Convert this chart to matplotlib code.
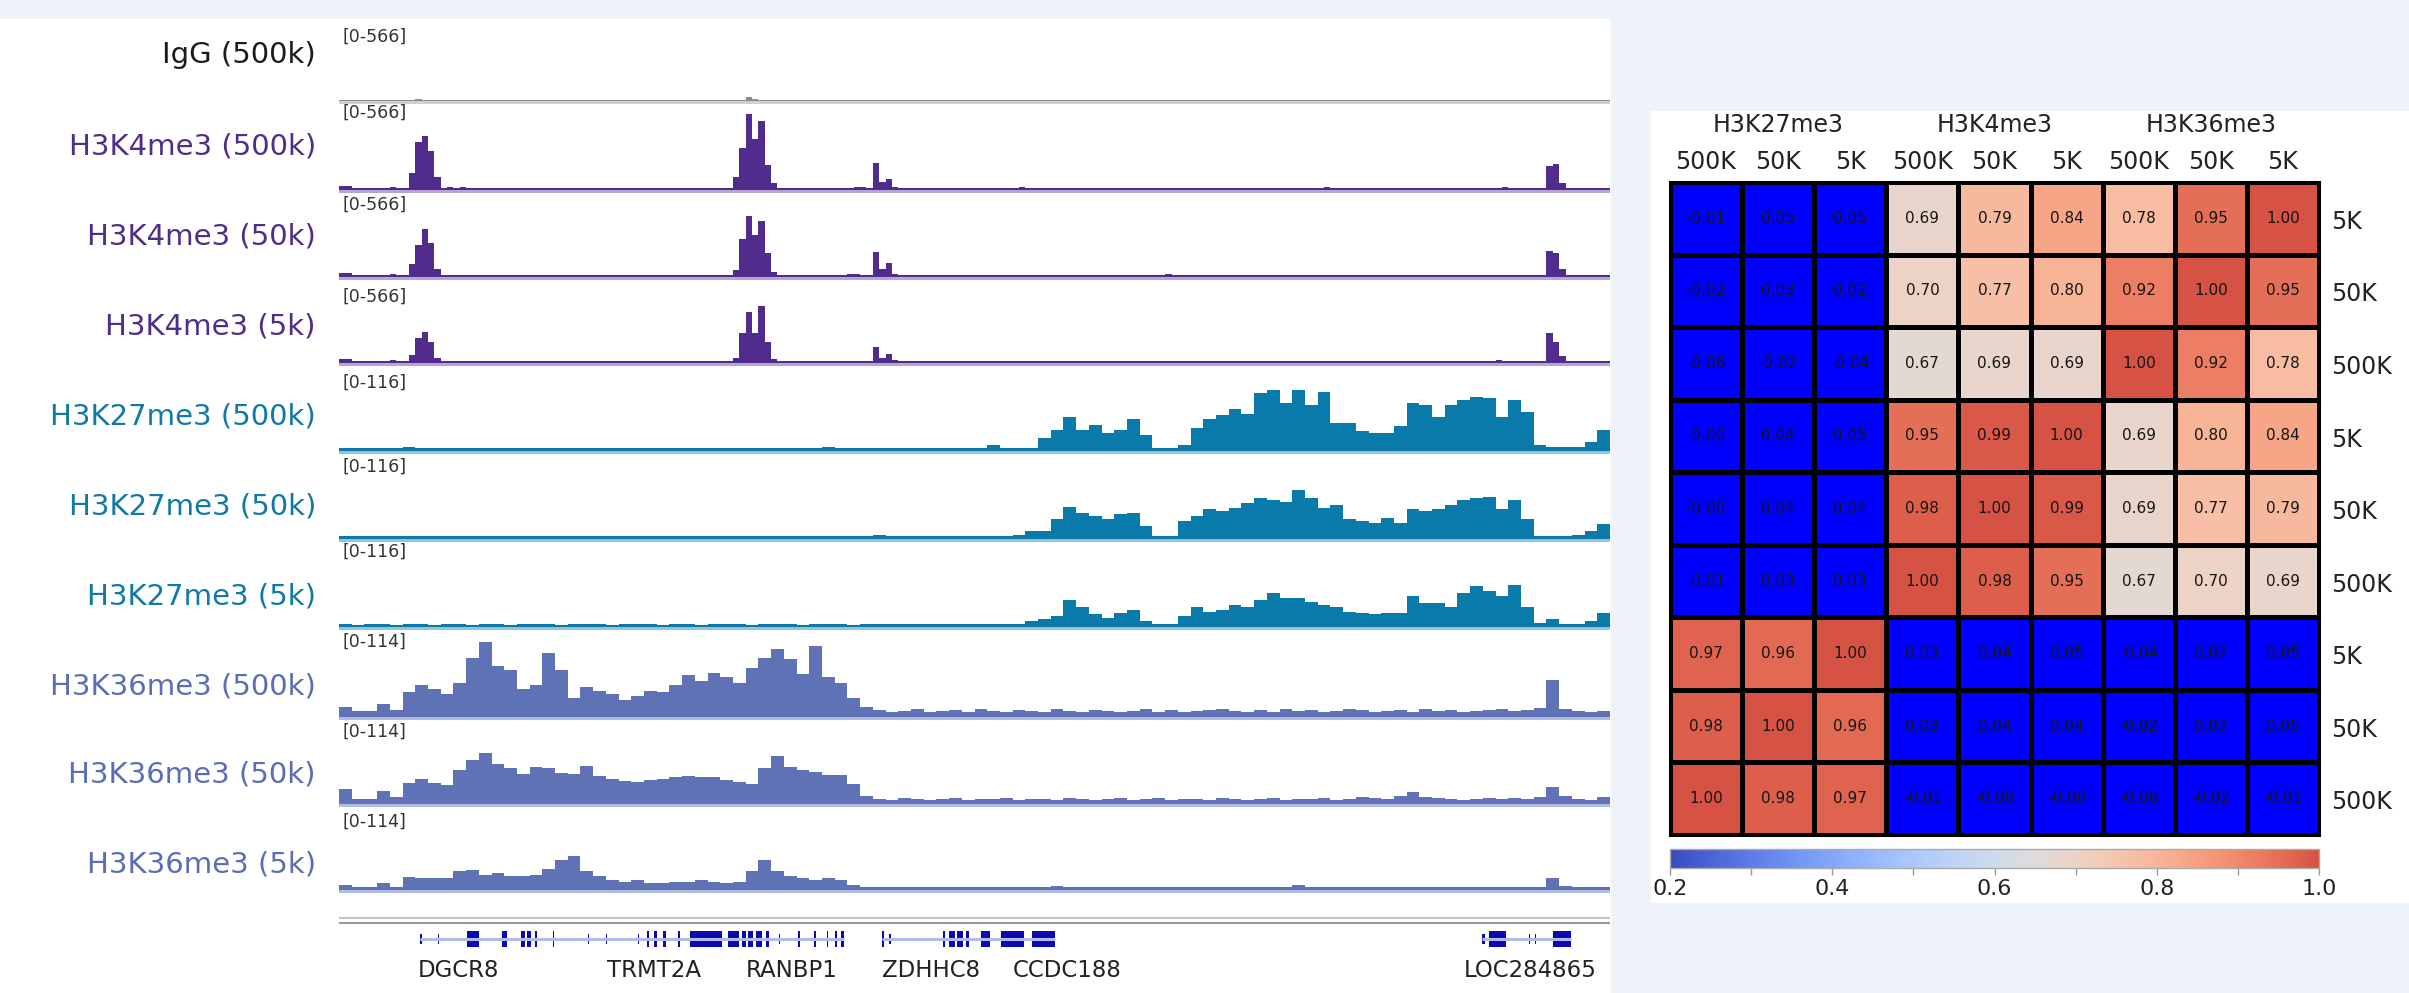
import numpy as np
import matplotlib
matplotlib.use('Agg')
import matplotlib.pyplot as plt
from matplotlib.patches import Rectangle
from matplotlib.colors import Normalize, LinearSegmentedColormap

# %% data

# coverage tracks, 100 bins across the locus, signal in % of the track range
k27_500k = [3, 3, 4, 3, 3, 5, 3, 3, 4, 3, 3, 4, 3, 3, 3, 4, 3, 3, 3, 4,
            3, 3, 4, 3, 3, 3, 4, 3, 3, 3, 4, 3, 3, 3, 3, 4, 3, 3, 5, 3,
            3, 4, 3, 3, 3, 3, 3, 3, 3, 4, 3, 7, 3, 3, 4, 15, 25, 40, 25, 31,
            21, 25, 38, 19, 3, 3, 7, 27, 38, 42, 50, 44, 68, 72, 56, 72, 54, 70, 33, 33,
            23, 21, 21, 29, 56, 54, 40, 54, 60, 64, 62, 40, 60, 46, 7, 5, 5, 5, 11, 25]
k27_50k = [3, 3, 3, 4, 3, 3, 4, 3, 3, 3, 3, 3, 4, 3, 3, 3, 3, 4, 3, 3,
           3, 3, 3, 3, 4, 3, 3, 3, 3, 3, 3, 3, 3, 3, 3, 3, 3, 3, 4, 3,
           3, 4, 5, 3, 4, 3, 3, 4, 3, 3, 4, 3, 4, 5, 9, 9, 23, 38, 31, 27,
           23, 29, 31, 15, 3, 3, 21, 27, 35, 33, 36, 42, 48, 46, 44, 58, 48, 36, 40, 23,
           21, 19, 25, 19, 35, 33, 35, 40, 46, 48, 50, 35, 46, 23, 3, 3, 3, 5, 9, 18]
k27_5k = [3, 2, 3, 3, 2, 3, 3, 2, 3, 3, 2, 3, 3, 2, 3, 3, 3, 2, 3, 3,
          3, 2, 3, 3, 3, 2, 3, 3, 2, 3, 3, 3, 2, 3, 3, 3, 2, 3, 3, 3,
          2, 3, 3, 3, 4, 3, 3, 3, 3, 3, 3, 3, 4, 4, 7, 9, 13, 32, 24, 15,
          11, 16, 20, 7, 3, 3, 13, 24, 18, 20, 26, 24, 32, 40, 34, 34, 30, 26, 24, 18,
          16, 15, 16, 16, 36, 28, 28, 24, 40, 48, 42, 36, 50, 24, 5, 9, 3, 4, 7, 16]

k36_500k = [12, 7, 7, 15, 8, 30, 38, 33, 27, 40, 70, 88, 60, 55, 33, 38, 75, 55, 22, 35,
            31, 27, 20, 25, 31, 29, 38, 50, 42, 52, 47, 40, 58, 70, 80, 68, 51, 84, 47, 40,
            22, 12, 8, 6, 7, 9, 6, 7, 8, 6, 9, 7, 6, 8, 7, 6, 9, 7, 6, 8,
            7, 6, 7, 9, 6, 8, 6, 7, 8, 9, 7, 6, 8, 6, 9, 7, 8, 6, 7, 9,
            8, 6, 7, 8, 6, 9, 7, 8, 6, 7, 8, 9, 7, 8, 11, 43, 9, 7, 6, 7]
k36_50k = [18, 6, 6, 15, 8, 25, 30, 25, 22, 40, 52, 60, 47, 42, 35, 43, 42, 37, 35, 45,
           33, 30, 27, 26, 28, 30, 32, 33, 32, 32, 28, 26, 24, 42, 56, 43, 40, 38, 34, 34,
           24, 9, 6, 5, 7, 6, 5, 6, 7, 5, 6, 6, 7, 5, 6, 6, 5, 7, 6, 5,
           6, 7, 5, 6, 7, 5, 6, 6, 5, 7, 6, 5, 6, 7, 5, 6, 6, 7, 5, 6,
           8, 7, 6, 9, 14, 8, 7, 6, 5, 6, 7, 6, 7, 6, 8, 20, 9, 6, 5, 8]
k36_5k = [6, 4, 4, 8, 4, 15, 14, 14, 14, 22, 24, 18, 20, 16, 16, 18, 25, 35, 40, 22,
          16, 12, 10, 12, 8, 8, 10, 10, 12, 10, 8, 10, 22, 35, 22, 16, 14, 12, 14, 12,
          6, 3, 4, 3, 3, 4, 3, 3, 4, 3, 3, 4, 3, 3, 4, 3, 5, 3, 3, 4,
          3, 3, 4, 3, 3, 4, 3, 4, 3, 3, 4, 3, 3, 4, 4, 6, 3, 3, 4, 3,
          3, 4, 3, 3, 4, 3, 4, 3, 3, 4, 3, 3, 4, 3, 4, 14, 5, 3, 4, 3]

# narrow tracks, 200 bins, only the bins above the floor {bin: % of range}
igg_500k = {10: 1.5, 12: 2, 14: 1.5, 18: 1.5, 64: 5, 65: 2, 100: 1.5, 130: 1.5, 160: 1.5, 185: 1.5}
k4_500k = {0: 5, 1: 5, 8: 3, 11: 20, 12: 56, 13: 64, 14: 46, 15: 15, 17: 3, 19: 3,
           62: 15, 63: 50, 64: 90, 65: 60, 66: 81, 67: 30, 68: 8, 81: 3, 82: 3,
           84: 32, 85: 10, 86: 13, 87: 4, 107: 3, 155: 3, 183: 3, 190: 28, 191: 31, 192: 8}
k4_50k = {0: 5, 1: 5, 8: 3, 11: 15, 12: 38, 13: 56, 14: 40, 15: 10,
          62: 8, 63: 45, 64: 72, 65: 50, 66: 66, 67: 28, 68: 6, 80: 3, 81: 3,
          84: 29, 85: 10, 86: 16, 87: 4, 130: 3, 190: 31, 191: 28, 192: 10}
k4_5k = {0: 5, 1: 5, 8: 3, 11: 10, 12: 30, 13: 36, 14: 25, 15: 6,
         62: 6, 63: 35, 64: 60, 65: 35, 66: 67, 67: 25, 68: 5,
         84: 19, 85: 6, 86: 11, 87: 3, 182: 3, 190: 35, 191: 25, 192: 8}

track_names = ['IgG (500k)', 'H3K4me3 (500k)', 'H3K4me3 (50k)', 'H3K4me3 (5k)',
               'H3K27me3 (500k)', 'H3K27me3 (50k)', 'H3K27me3 (5k)',
               'H3K36me3 (500k)', 'H3K36me3 (50k)', 'H3K36me3 (5k)']
track_ranges = ['[0-566]'] * 4 + ['[0-116]'] * 3 + ['[0-114]'] * 3

# genes, in the same 0-100 locus units
gene_names = ['DGCR8', 'TRMT2A', 'RANBP1', 'ZDHHC8', 'CCDC188', 'LOC284865']
gene_starts = [6.2, 21.1, 32.0, 42.7, 53.0, 88.5]
gene_spans = [(6.4, 39.7), (42.7, 56.3), (89.9, 96.9)]
exons_tall = [(10.1, 11.0), (12.8, 13.2), (14.3, 14.6), (14.8, 15.1), (15.4, 15.6), (16.8, 16.95),
              (24.2, 24.4), (24.8, 25.05), (25.5, 25.7), (26.7, 26.85), (27.6, 30.1),
              (30.6, 31.5), (31.7, 32.0), (32.2, 32.6), (32.8, 33.3), (33.6, 33.8),
              (36.1, 36.25), (37.4, 37.55), (38.4, 38.5), (39.0, 39.15), (39.5, 39.7),
              (42.75, 42.9), (47.5, 47.7), (48.0, 48.5), (48.6, 49.1), (49.3, 49.6), (50.5, 51.2),
              (52.1, 53.9), (54.5, 56.3), (90.5, 91.8), (95.5, 96.9)]
exons_thin = [(6.4, 6.5), (7.8, 7.9), (19.6, 19.7), (21.0, 21.1), (23.5, 23.6), (34.6, 34.7),
              (43.3, 43.4), (89.9, 90.2), (93.6, 93.7), (94.1, 94.2)]

# correlation heatmap
col_groups = ['H3K27me3', 'H3K4me3', 'H3K36me3']
col_labels = ['500K', '50K', '5K'] * 3
row_labels = ['5K', '50K', '500K'] * 3
corr = np.array([
    [-0.01, 0.05, 0.05, 0.69, 0.79, 0.84, 0.78, 0.95, 1.00],
    [-0.02, 0.03, 0.02, 0.70, 0.77, 0.80, 0.92, 1.00, 0.95],
    [-0.06, -0.02, -0.04, 0.67, 0.69, 0.69, 1.00, 0.92, 0.78],
    [-0.0, 0.04, 0.05, 0.95, 0.99, 1.00, 0.69, 0.80, 0.84],
    [-0.0, 0.04, 0.04, 0.98, 1.00, 0.99, 0.69, 0.77, 0.79],
    [-0.01, 0.03, 0.03, 1.00, 0.98, 0.95, 0.67, 0.70, 0.69],
    [0.97, 0.96, 1.00, 0.03, 0.04, 0.05, -0.04, 0.02, 0.05],
    [0.98, 1.00, 0.96, 0.03, 0.04, 0.04, -0.02, 0.03, 0.05],
    [1.00, 0.98, 0.97, -0.01, -0.0, -0.0, -0.06, -0.02, -0.01],
])
cbar_ticks = [0.2, 0.3, 0.4, 0.5, 0.6, 0.7, 0.8, 0.9, 1.0]

# %% layout (pixels of the 2409x993 canvas)

W, H = 2409, 993
TX0, TX1 = 339, 1610
baselines = [101, 190, 277, 363, 451, 539, 627, 717, 804, 890]
name_y = [55, 147, 237, 327, 417, 507, 597, 687, 775, 865]
range_y = [37, 113, 205, 297, 383, 467, 552, 642, 732, 822]


def rect(x0, y0, x1, y1):
    return [x0 / W, 1 - y1 / H, (x1 - x0) / W, (y1 - y0) / H]


def sparse_track(peaks, n=200, floor=2.5):
    vals = np.full(n, floor)
    for b, v in peaks.items():
        vals[b] = max(v, floor)
    return vals


fig = plt.figure(figsize=(W / 100, H / 100), dpi=100)
fig.patch.set_facecolor('#edf3f8')
fig.add_artist(Rectangle((0, 0), 1611 / W, 1 - 19 / H, transform=fig.transFigure,
                         facecolor='white', edgecolor='none', zorder=0))
fig.add_artist(Rectangle((1651 / W, 1 - 903 / H), 1 - 1651 / W, (903 - 111) / H,
                         transform=fig.transFigure, facecolor='white', edgecolor='none', zorder=0))

# %% coverage tracks

purple, teal, slate = '#522c8c', '#0a7aab', '#5f72b6'
track_data = [sparse_track(igg_500k, floor=1.0), sparse_track(k4_500k), sparse_track(k4_50k),
              sparse_track(k4_5k), k27_500k, k27_50k, k27_5k, k36_500k, k36_50k, k36_5k]
fill_colors = ['#8c8c8c', purple, purple, purple, teal, teal, teal, slate, slate, slate]
light_colors = ['#d0d0d0', '#b8a5d6', '#b8a5d6', '#b8a5d6', '#8ec4de', '#8ec4de', '#8ec4de',
                '#b0bbe0', '#b0bbe0', '#b0bbe0']
name_colors = ['#1c1c1c', '#4f2d8a', '#4f2d8a', '#4f2d8a', '#1079a6', '#1079a6', '#1079a6',
               '#5a6db5', '#5a6db5', '#5a6db5']

for i, vals in enumerate(track_data):
    vals = np.asarray(vals, dtype=float)
    ax = fig.add_axes(rect(TX0, baselines[i] - 85, TX1, baselines[i] + 3))
    edges = np.linspace(0, 100, len(vals) + 1)
    ax.stairs(vals, edges, fill=True, color=fill_colors[i], baseline=0)
    ax.axhspan(-3.5, 0, color=light_colors[i], lw=0)
    ax.set_xlim(0, 100)
    ax.set_ylim(-3.5, 100)
    ax.axis('off')
    fig.text(316 / W, 1 - name_y[i] / H, track_names[i], ha='right', va='center',
             fontsize=21, color=name_colors[i])
    fig.text(343 / W, 1 - range_y[i] / H, track_ranges[i], ha='left', va='center',
             fontsize=12.5, color='#333333')

# %% gene track

gax = fig.add_axes(rect(TX0, 905, TX1, 993))
gax.set_xlim(0, 100)
gax.set_ylim(993, 905)
gax.axis('off')
gax.axhline(918, color='#c4c4c4', lw=1.5)
gax.axhline(923, color='#9a9a9a', lw=1.5)
for s, e in gene_spans:
    gax.plot([s, e], [939, 939], color='#b4b8ec', lw=2.2, solid_capstyle='butt')
for s, e in exons_thin:
    gax.add_patch(Rectangle((s, 934), e - s, 10, color='#0a0ab0', lw=0))
for s, e in exons_tall:
    gax.add_patch(Rectangle((s, 931), e - s, 16, color='#0a0ab0', lw=0))
for name, s in zip(gene_names, gene_starts):
    gax.text(s, 971, name, ha='left', va='center', fontsize=16.5, color='#222222')

# %% correlation heatmap

# coolwarm, stopping short of its darkest red
cmap = LinearSegmentedColormap.from_list('cw', plt.get_cmap('coolwarm')(np.linspace(0, 0.9, 256)))
cmap.set_under('#0000ff')
norm = Normalize(vmin=0.2, vmax=1.0)

hax = fig.add_axes(rect(1670, 182, 2319, 835))
mesh = hax.pcolormesh(corr, cmap=cmap, norm=norm, edgecolors='black', linewidth=2.2)
hax.set_xlim(0, 9)
hax.set_ylim(9, 0)
hax.set_xticks([])
hax.set_yticks([])
for sp in hax.spines.values():
    sp.set_linewidth(2.2)

for r in range(corr.shape[0]):
    for c in range(corr.shape[1]):
        hax.text(c + 0.5, r + 0.5, f'{corr[r, c]:.2f}', ha='center', va='center',
                 fontsize=11, color='#151515')

for c, lab in enumerate(col_labels):
    hax.text(c + 0.5, -0.28, lab, ha='center', va='center', fontsize=17, color='#222222')
for g, lab in enumerate(col_groups):
    hax.text(g * 3 + 1.5, -0.79, lab, ha='center', va='center', fontsize=17, color='#222222')
for r, lab in enumerate(row_labels):
    hax.text(9.17, r + 0.55, lab, ha='left', va='center', fontsize=17, color='#222222')

cax = fig.add_axes(rect(1670, 849, 2319, 868))
cbar = fig.colorbar(mesh, cax=cax, orientation='horizontal', ticks=cbar_ticks)
cbar.ax.set_xticklabels([f'{t:.1f}' if k % 2 == 0 else '' for k, t in enumerate(cbar_ticks)])
cbar.ax.tick_params(length=5, width=1, color='#999999', labelsize=16, pad=3, labelcolor='#222222')
cbar.outline.set_edgecolor('#aaaaaa')
cbar.outline.set_linewidth(1)

fig.savefig('out.png', dpi=100, facecolor=fig.get_facecolor())
